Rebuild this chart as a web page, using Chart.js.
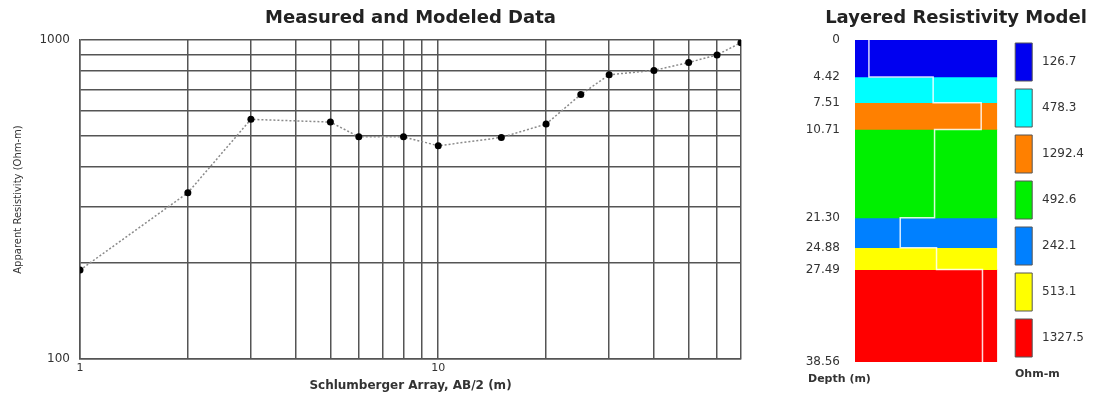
<!DOCTYPE html>
<html>
<head>
<meta charset="utf-8">
<title>Resistivity sounding</title>
<script src="https://cdn.jsdelivr.net/npm/chart.js@4.4.0/dist/chart.umd.min.js"></script>
<style>
  body { margin: 0; background: #fff; }
  #wrap { position: relative; width: 1099px; height: 396px; overflow: hidden; }
  canvas { position: absolute; top: 0; }
  #curveChart { left: 0; }
  #modelChart { left: 800px; }
  .note { position: absolute; font: bold 11px 'DejaVu Sans', sans-serif; line-height: 13px; color: #333; white-space: nowrap; }
</style>
</head>
<body>
<div id="wrap">
  <canvas id="curveChart" width="821" height="396"></canvas>
  <canvas id="modelChart" width="312" height="396"></canvas>
  <span class="note" style="left:808px; top:372px;">Depth (m)</span>
  <span class="note" style="left:1015px; top:367px;">Ohm-m</span>
</div>
<script>
// sounding curve (AB/2 in m, apparent resistivity in ohm-m)
const spacing = [1, 2, 3, 5, 6, 8, 10, 15, 20, 25, 30, 40, 50, 60, 70];
const apparentRes = [190, 332, 564, 553, 497, 497, 466, 495, 545, 675, 778, 803, 850, 898, 981];
const xGrid = [1, 2, 3, 4, 5, 6, 7, 8, 9, 10, 20, 30, 40, 50, 60, 70];
const yGrid = [100, 200, 300, 400, 500, 600, 700, 800, 900, 1000];
const xLabelled = [1, 10];
const yLabelled = [100, 1000];

// layered model
const depthTicks = ['0', '4.42', '7.51', '10.71', '21.30', '24.88', '27.49', '38.56'];
const layerRes = [126.7, 478.3, 1292.4, 492.6, 242.1, 513.1, 1327.5];
const layerColors = ['#0000f0', '#00ffff', '#ff8000', '#00f000', '#0080ff', '#ffff00', '#ff0000'];

Chart.defaults.font.family = "'DejaVu Sans', sans-serif";
Chart.defaults.color = '#333';

const gridColor = '#555';
const depths = depthTicks.map(Number);

new Chart(document.getElementById('curveChart'), {
    type: 'line',
    data: {
        datasets: [{
            label: 'Apparent resistivity',
            data: spacing.map((x, i) => ({ x: x, y: apparentRes[i] })),
            borderColor: '#8a8a8a',
            borderDash: [2, 2],
            borderWidth: 1.5,
            pointRadius: 3.5,
            pointBackgroundColor: '#000',
            pointBorderWidth: 0,
            tension: 0
        }]
    },
    options: {
        responsive: false,
        animation: false,
        layout: { padding: { left: 0, right: 80, top: 0, bottom: 3.4 } },
        plugins: {
            legend: { display: false },
            tooltip: { enabled: false },
            title: {
                display: true,
                fullSize: false,
                text: 'Measured and Modeled Data',
                color: '#222',
                font: { size: 18, weight: 'bold' },
                padding: { top: 7.4, bottom: 11 }
            }
        },
        scales: {
            x: {
                type: 'logarithmic',
                min: 1,
                max: 70,
                grid: { color: gridColor, lineWidth: 1.5, drawTicks: false },
                border: { color: gridColor, width: 1.5 },
                afterBuildTicks: s => { s.ticks = xGrid.map(v => ({ value: v })); },
                ticks: {
                    autoSkip: false,
                    maxRotation: 0,
                    padding: 3,
                    font: { size: 11 },
                    callback: v => xLabelled.includes(v) ? String(v) : ''
                },
                title: {
                    display: true,
                    text: 'Schlumberger Array, AB/2 (m)',
                    font: { size: 12, weight: 'bold' },
                    padding: { top: 0, bottom: 0 }
                }
            },
            y: {
                type: 'logarithmic',
                min: 100,
                max: 1000,
                grid: { color: gridColor, lineWidth: 1.5, drawTicks: false },
                border: { color: gridColor, width: 1.5 },
                afterBuildTicks: s => { s.ticks = yGrid.map(v => ({ value: v })); },
                ticks: {
                    autoSkip: false,
                    padding: 10,
                    font: { size: 12 },
                    callback: v => yLabelled.includes(v) ? String(v) : ''
                },
                title: {
                    display: true,
                    text: 'Apparent Resistivity (Ohm-m)',
                    font: { size: 10 },
                    padding: { top: 12, bottom: 0 }
                },
                afterFit: s => { s.width = 80; }
            }
        }
    }
});

// one floating bar per layer, plus the white step line of layer resistivities
const modelSets = layerRes.map((r, i) => ({
    label: r.toFixed(1),
    data: [[depths[i], depths[i + 1]]],
    backgroundColor: layerColors[i],
    borderWidth: 0,
    grouped: false,
    barPercentage: 1,
    categoryPercentage: 1,
    xAxisID: 'xc',
    yAxisID: 'y'
}));
const stepPoints = [];
layerRes.forEach((r, i) => {
    stepPoints.push({ x: r, y: depths[i] }, { x: r, y: depths[i + 1] });
});
modelSets.push({
    type: 'line',
    label: 'model',
    data: stepPoints,
    xAxisID: 'xr',
    yAxisID: 'y',
    borderColor: 'rgba(255,255,255,0.85)',
    borderWidth: 1.5,
    pointRadius: 0,
    tension: 0,
    order: -1
});

// invisible spacer axes on the right, one each side of the legend
const spacer = (w, weight) => ({
    type: 'linear',
    position: 'right',
    weight: weight,
    grid: { display: false },
    border: { display: false },
    ticks: { display: false },
    afterFit: s => { s.width = w; }
});

new Chart(document.getElementById('modelChart'), {
    type: 'bar',
    data: { labels: [''], datasets: modelSets },
    options: {
        responsive: false,
        animation: false,
        layout: { padding: { left: 0, right: 0, top: 0, bottom: 31 } },
        plugins: {
            tooltip: { enabled: false },
            title: {
                display: true,
                text: 'Layered Resistivity Model',
                color: '#222',
                font: { size: 18, weight: 'bold' },
                padding: { top: 7.4, bottom: 11 }
            },
            legend: {
                position: 'right',
                align: 'end',
                maxWidth: 200,
                labels: {
                    boxWidth: 17,
                    boxHeight: 38,
                    padding: 8,
                    font: { size: 12 },
                    generateLabels: chart => Chart.defaults.plugins.legend.labels.generateLabels(chart)
                        .filter(l => l.datasetIndex < layerRes.length)
                        .map(l => Object.assign(l, { text: ' ' + l.text, strokeStyle: '#555', lineWidth: 1 }))
                }
            }
        },
        scales: {
            xc: {
                type: 'category',
                position: 'bottom',
                grid: { display: false },
                border: { display: false },
                ticks: { display: false },
                afterFit: s => { s.height = 3; }
            },
            xr: { type: 'logarithmic', display: false, min: 95, max: 1800 },
            y: {
                type: 'linear',
                reverse: true,
                min: 0,
                max: depths[depths.length - 1],
                grid: { display: false },
                border: { display: false },
                afterBuildTicks: s => { s.ticks = depths.map(v => ({ value: v })); },
                ticks: {
                    autoSkip: false,
                    padding: 7,
                    font: { size: 12 },
                    callback: (v, i) => depthTicks[i]
                },
                afterFit: s => { s.width = 55; }
            },
            gapIn: spacer(10, 0),
            gapOut: spacer(18, 2000)
        }
    }
});
</script>
</body>
</html>
